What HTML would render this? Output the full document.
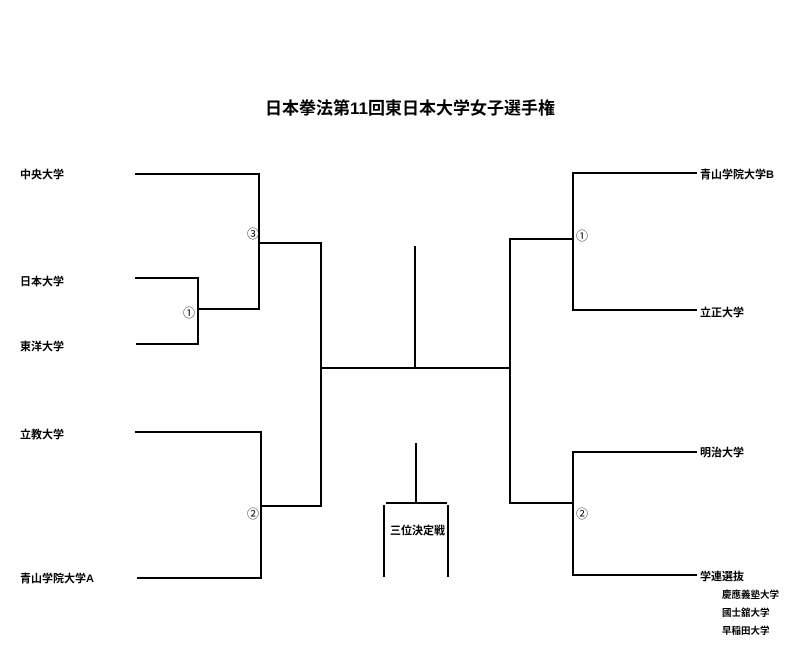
<!DOCTYPE html>
<html><head><meta charset="utf-8"><style>
body{margin:0;background:#fff;}
svg text{font-family:"Liberation Sans","Noto Sans CJK JP",sans-serif;font-weight:bold;fill:#000;}
</style></head><body>
<svg width="800" height="650" xmlns="http://www.w3.org/2000/svg">
<text x="410" y="114" font-size="17" text-anchor="middle">日本拳法第11回東日本大学女子選手権</text>
<g font-size="11">
<text x="20" y="178">中央大学</text>
<text x="20" y="285">日本大学</text>
<text x="20" y="350">東洋大学</text>
<text x="20" y="438">立教大学</text>
<text x="20" y="582">青山学院大学A</text>
<text x="700" y="178">青山学院大学B</text>
<text x="700" y="316">立正大学</text>
<text x="700" y="456">明治大学</text>
<text x="700" y="580">学連選抜</text>
<text x="390" y="534">三位決定戦</text>
</g>
<g font-size="9.5">
<text x="722" y="598">慶應義塾大学</text>
<text x="722" y="616">國士舘大学</text>
<text x="722" y="634">早稲田大学</text>
</g>
<g font-size="12" font-weight="normal" text-anchor="middle">
<text x="253" y="238" style="font-weight:normal">③</text>
<text x="189" y="317" style="font-weight:normal">①</text>
<text x="253" y="518" style="font-weight:normal">②</text>
<text x="582" y="240" style="font-weight:normal">①</text>
<text x="582" y="518" style="font-weight:normal">②</text>
</g>
<g stroke="#000" stroke-width="2" fill="none">
<polyline points="135,174 259,174 259,309 198,309"/>
<polyline points="135,278 198,278 198,344 136,344"/>
<polyline points="259,243 321,243 321,506 261,506"/>
<polyline points="135,432 261,432 261,578 137,578"/>
<line x1="321" y1="368" x2="510" y2="368"/>
<line x1="415" y1="246" x2="415" y2="368"/>
<polyline points="697,173 573,173 573,310 697,310"/>
<polyline points="573,239 510,239 510,503 573,503"/>
<polyline points="697,452 573,452 573,575 697,575"/>
<line x1="416" y1="443" x2="416" y2="503"/>
<line x1="386" y1="503" x2="447" y2="503"/>
<line x1="384" y1="505" x2="384" y2="577"/>
<line x1="448" y1="505" x2="448" y2="577"/>
</g>
</svg>
</body></html>
